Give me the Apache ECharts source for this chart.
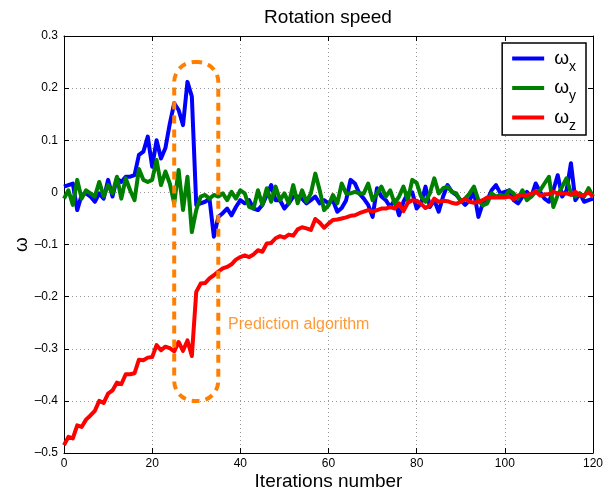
<!DOCTYPE html>
<html>
<head>
<meta charset="utf-8">
<script src="https://cdn.jsdelivr.net/npm/echarts@6/dist/echarts.min.js"></script>
<style>html,body{margin:0;padding:0;background:#fff}#c{width:610px;height:490px}</style>
</head>
<body>
<div id="c"></div>
<script>
var iterations = [];
for (var k = 0; k <= 120; k++) iterations.push(k);

var omegaX = [0.011,0.014,0.017,-0.034,-0.005,-0.002,-0.008,-0.018,-0.002,-0.012,
0.024,-0.008,0.027,0.020,0.030,0.030,0.033,0.072,0.078,0.107,
0.049,0.100,0.065,0.085,0.132,0.171,0.158,0.129,0.212,0.184,
-0.024,-0.021,-0.018,-0.012,-0.085,-0.047,-0.040,-0.031,-0.044,-0.028,
-0.015,-0.021,-0.015,-0.031,-0.034,-0.024,-0.005,0.014,-0.015,-0.015,
-0.031,-0.021,-0.008,-0.008,-0.012,-0.021,-0.015,-0.008,-0.021,-0.015,
-0.021,-0.015,-0.037,-0.030,-0.015,0.024,0.017,-0.002,-0.012,-0.024,
-0.047,0.008,-0.008,-0.015,-0.028,-0.015,-0.044,-0.018,-0.002,0.000,
-0.031,-0.021,0.011,-0.028,-0.015,-0.037,-0.008,0.014,0.001,-0.005,
-0.015,-0.024,-0.015,0.001,-0.047,-0.021,-0.015,0.004,0.014,-0.002,
0.001,0.004,-0.015,-0.021,-0.008,0.001,-0.008,0.017,0.001,-0.012,
-0.018,0.004,0.033,-0.008,0.004,0.056,-0.015,-0.002,-0.018,-0.015,
-0.012];

var omegaY = [-0.012,0.004,-0.024,0.024,-0.012,0.004,-0.002,-0.008,0.020,-0.008,
0.014,-0.002,0.030,-0.012,0.027,0.004,-0.015,0.045,0.024,0.020,
0.024,0.062,0.014,0.040,0.017,-0.021,0.043,-0.034,0.030,-0.076,
-0.034,-0.008,-0.005,-0.012,-0.005,-0.008,-0.002,-0.015,0.001,-0.012,
0.004,-0.002,-0.028,-0.031,0.004,-0.024,0.008,-0.018,0.011,-0.015,
-0.002,-0.021,0.014,-0.021,0.004,-0.018,-0.002,0.036,0.004,-0.034,
-0.025,-0.005,-0.021,0.017,-0.002,-0.002,0.001,-0.002,-0.002,0.017,
-0.015,-0.002,0.011,-0.008,0.004,-0.021,-0.008,0.011,-0.015,0.024,
0.018,-0.008,-0.018,-0.002,0.027,-0.002,0.008,0.011,0.001,-0.002,
-0.018,-0.012,-0.002,0.011,-0.015,-0.025,-0.021,-0.002,-0.008,-0.005,
-0.008,0.004,-0.002,-0.012,0.004,-0.015,-0.008,0.001,0.004,0.017,
0.030,-0.028,-0.005,0.011,0.027,-0.002,-0.008,-0.002,-0.008,0.008,
-0.008];

var omegaZ = [-0.485,-0.469,-0.472,-0.447,-0.450,-0.436,-0.428,-0.419,-0.400,-0.404,
-0.386,-0.380,-0.365,-0.368,-0.349,-0.349,-0.347,-0.321,-0.322,-0.317,
-0.316,-0.293,-0.303,-0.296,-0.299,-0.305,-0.287,-0.304,-0.284,-0.314,
-0.191,-0.175,-0.174,-0.165,-0.159,-0.152,-0.146,-0.143,-0.138,-0.129,
-0.124,-0.121,-0.124,-0.119,-0.111,-0.114,-0.098,-0.097,-0.088,-0.084,
-0.087,-0.081,-0.083,-0.071,-0.067,-0.069,-0.072,-0.051,-0.058,-0.068,
-0.060,-0.053,-0.052,-0.050,-0.048,-0.045,-0.044,-0.040,-0.037,-0.034,
-0.037,-0.034,-0.031,-0.031,-0.028,-0.031,-0.021,-0.036,-0.020,-0.015,
-0.016,-0.022,-0.030,-0.025,-0.012,-0.018,-0.016,-0.017,-0.020,-0.022,
-0.018,-0.012,-0.018,-0.020,-0.018,-0.015,-0.010,-0.010,-0.010,-0.010,
-0.010,-0.008,-0.013,-0.006,-0.005,-0.005,-0.003,0.002,-0.006,-0.004,
-0.003,0.001,-0.002,-0.002,-0.002,-0.005,0.001,-0.006,-0.005,0.000,
-0.008];

var xTicks = [0, 20, 40, 60, 80, 100, 120];
var yTicks = [-0.5, -0.4, -0.3, -0.2, -0.1, 0, 0.1, 0.2, 0.3];
var seriesNames = ['ωx', 'ωy', 'ωz'];
var seriesColors = ['#0000ff', '#008000', '#ff0000'];
// Prediction region box: [x0, yTop, x1, yBottom]
var predictionBox = [[25, 0.25, 35, -0.40]];
var predictionLabel = [[37.2, -0.253]];
var predictionText = 'Prediction algorithm';

function pairs(ys) { return iterations.map(function (x, i) { return [x, ys[i]]; }); }
function fmtY(v) {
  var r = Math.round(v * 10) / 10;
  if (r === 0) return '0';
  return (r < 0 ? '\u2013' : '') + Math.abs(r).toString();
}

var FONT = 'Liberation Sans, Arial, Helvetica, sans-serif';
var xMin = xTicks[0], xMax = xTicks[xTicks.length - 1], xInt = xTicks[1] - xTicks[0];
var yMin = yTicks[0], yMax = yTicks[yTicks.length - 1], yInt = 0.1;

var axisCommon = {
  axisLine: { show: true, onZero: false, lineStyle: { color: '#000', width: 1 } },
  axisTick: { show: true, inside: true, length: 5, lineStyle: { color: '#000' } }
};

var chart = echarts.init(document.getElementById('c'), null, { renderer: 'canvas' });
var lineData = [omegaX, omegaY, omegaZ];
var series = lineData.map(function (d, i) {
  return {
    name: seriesNames[i], type: 'line', data: pairs(d), showSymbol: false, symbol: 'none',
    lineStyle: { color: seriesColors[i], width: 4, join: 'round' },
    itemStyle: { color: seriesColors[i] }, z: 2 + i, animation: false
  };
});
series.push({
  type: 'custom', name: 'box', data: predictionBox, clip: false, z: 10, silent: true,
  encode: { x: [0, 2], y: [1, 3] },
  renderItem: function (params, api) {
    var p1 = api.coord([api.value(0), api.value(1)]);
    var p2 = api.coord([api.value(2), api.value(3)]);
    return {
      type: 'rect',
      shape: { x: p1[0], y: p1[1], width: p2[0] - p1[0], height: p2[1] - p1[1], r: 20 },
      style: { fill: 'none', stroke: '#ff8000', lineWidth: 4, lineDash: [8, 6] }
    };
  }
});
series.push({
  type: 'scatter', name: 'label', data: predictionLabel, symbolSize: 0, silent: true, z: 11,
  label: { show: true, position: 'right', distance: 0, formatter: predictionText,
    color: '#ff8000', fontSize: 16, fontFamily: FONT }
});

chart.setOption({
  animation: false,
  backgroundColor: '#fff',
  title: { text: 'Rotation speed', left: 323, top: 3, textAlign: 'center',
    textStyle: { fontSize: 19, fontWeight: 'normal', color: '#000', fontFamily: FONT } },
  grid: { left: 64, right: 17, top: 36, bottom: 37, containLabel: false, outerBoundsMode: 'none' },
  legend: {
    data: seriesNames, orient: 'vertical', right: 24, top: 43,
    backgroundColor: '#fff', borderColor: '#000', borderWidth: 1.5, borderRadius: 0,
    padding: [2, 10, 2, 10], itemGap: 0.5, itemWidth: 32, itemHeight: 4, icon: 'rect',
    formatter: function (name) { return '{a|ω}{b|' + name.slice(1) + '}'; },
    textStyle: {
      fontFamily: FONT, color: '#000',
      rich: {
        a: { fontSize: 19, lineHeight: 27, verticalAlign: 'middle', padding: [0, 0, 0, 5], fontFamily: FONT, color: '#000' },
        b: { fontSize: 14, lineHeight: 6, verticalAlign: 'top', padding: [15, 0, 0, 0], fontFamily: FONT, color: '#000' }
      }
    }
  },
  xAxis: [
    Object.assign({
      type: 'value', min: xMin, max: xMax, interval: xInt, position: 'bottom',
      name: 'Iterations number', nameLocation: 'middle', nameGap: 19, nameMoveOverlap: false,
      nameTextStyle: { fontSize: 19, color: '#000', fontFamily: FONT },
      axisLabel: { color: '#000', fontSize: 12, margin: 5, fontFamily: FONT },
      splitLine: { show: true, lineStyle: { color: '#999', type: [1, 3], width: 1 } }
    }, axisCommon),
    Object.assign({
      type: 'value', min: xMin, max: xMax, interval: xInt, position: 'top',
      axisLabel: { show: false }, splitLine: { show: false }
    }, axisCommon)
  ],
  yAxis: [
    Object.assign({
      type: 'value', min: yMin, max: yMax, interval: yInt, position: 'left',
      name: 'ω', nameLocation: 'middle', nameGap: 33, nameRotate: 90, nameMoveOverlap: false,
      nameTextStyle: { fontSize: 19, color: '#000', fontFamily: FONT },
      axisLabel: { color: '#000', fontSize: 12, margin: 6, fontFamily: FONT, formatter: fmtY },
      splitLine: { show: true, lineStyle: { color: '#999', type: [1, 3], width: 1 } }
    }, axisCommon),
    Object.assign({
      type: 'value', min: yMin, max: yMax, interval: yInt, position: 'right',
      axisLabel: { show: false }, splitLine: { show: false }
    }, axisCommon)
  ],
  series: series
});
</script>
</body>
</html>
